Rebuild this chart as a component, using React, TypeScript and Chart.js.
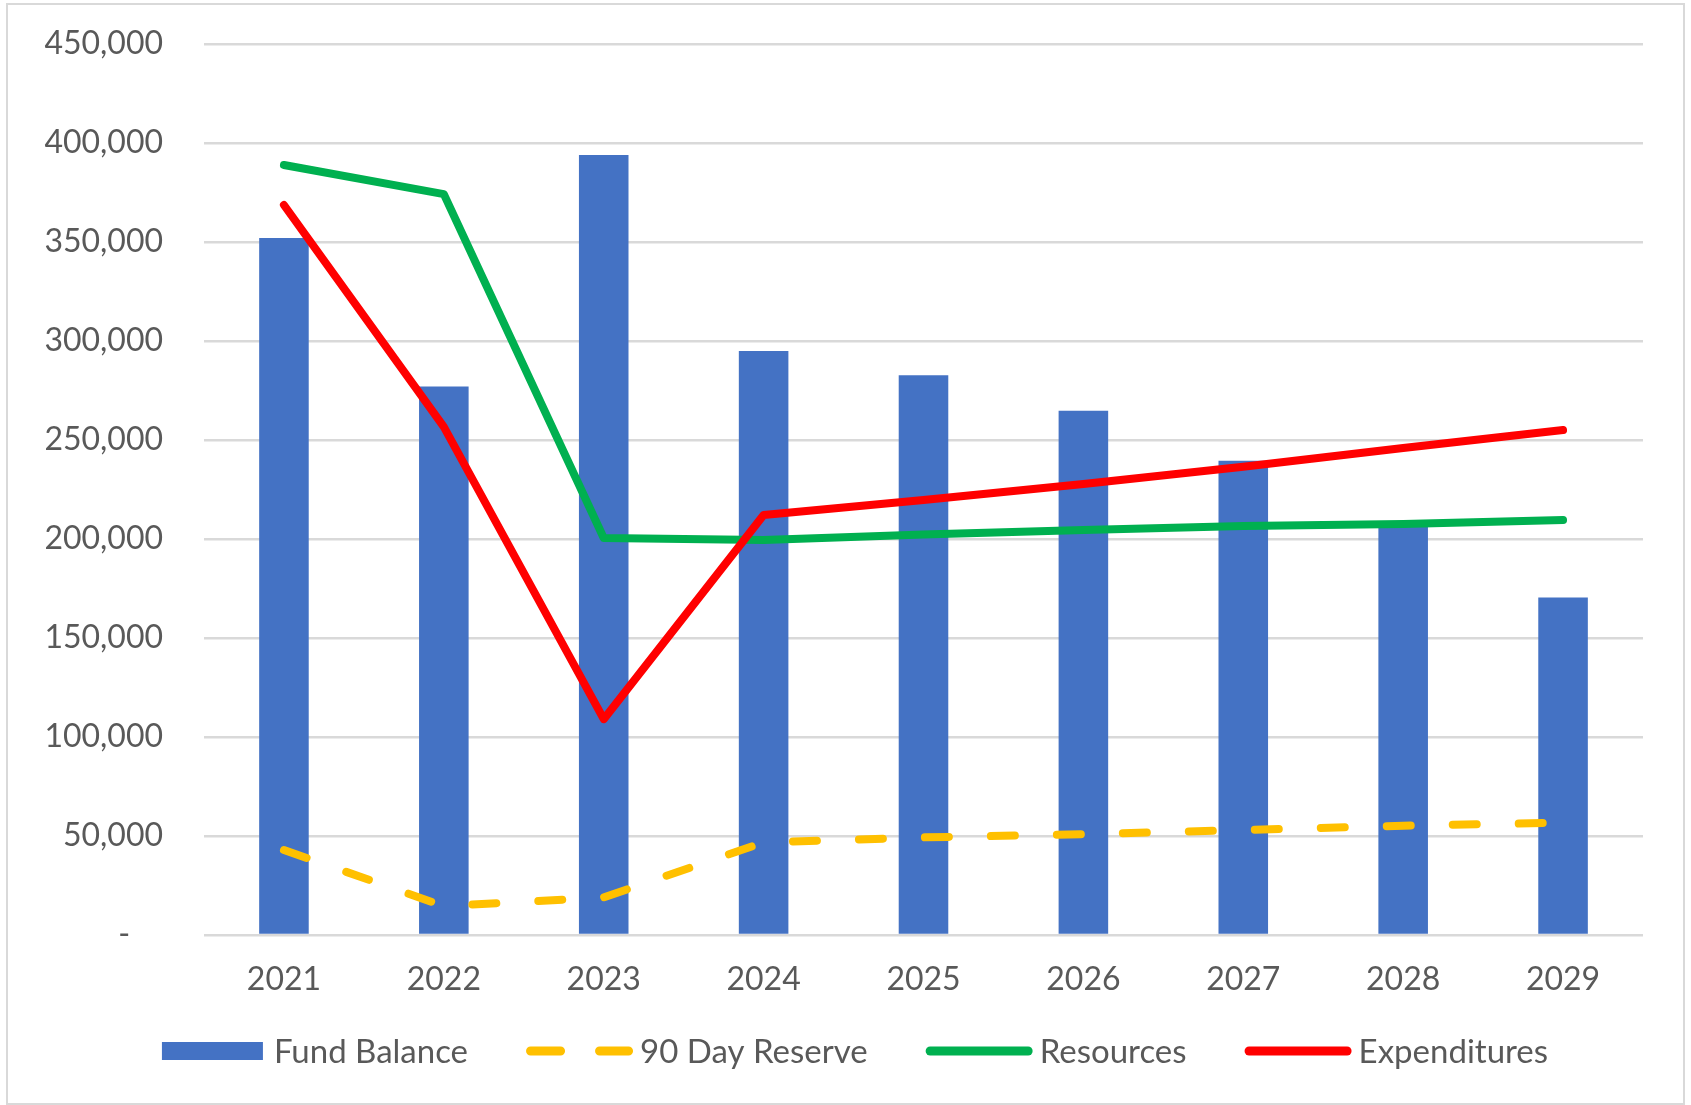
import React, { useEffect, useRef } from "react";
import { Chart, registerables } from "chart.js";

Chart.register(...registerables);

const years = ["2021", "2022", "2023", "2024", "2025", "2026", "2027", "2028", "2029"];
const fundBalance = [352000, 277000, 394000, 295000, 282700, 264800, 239500, 208000, 170500];
const reserve90 = [42900, 14600, 19000, 46800, 49300, 50900, 53000, 55200, 56700];
const resources = [388900, 374200, 200500, 199500, 202300, 204500, 206600, 207600, 209600];
const expenditures = [368700, 256600, 109000, 212100, 219700, 227800, 236500, 246000, 255000];
const seriesLabels = ["Fund Balance", "90 Day Reserve", "Resources", "Expenditures"];
const yMin = 0;
const yMax = 450000;
const yStep = 50000;

const FONT = "Lato, 'Open Sans', sans-serif";
const TEXT = "#595959";
const W = 1691;
const H = 1105;

const frameAndLegend = {
  id: "frameAndLegend",
  beforeDraw(chart: any) {
    const ctx = chart.ctx;
    ctx.save();
    ctx.fillStyle = "#ffffff";
    ctx.fillRect(0, 0, chart.width, chart.height);
    ctx.strokeStyle = "#d9d9d9";
    ctx.lineWidth = 2;
    ctx.strokeRect(7, 4, chart.width - 14, chart.height - 5);
    ctx.restore();
  },
  afterDraw(chart: any) {
    const ctx = chart.ctx;
    ctx.save();
    ctx.font = `33px ${FONT}`;
    ctx.textBaseline = "middle";
    ctx.fillStyle = TEXT;
    const gapItem = 58;
    const items = chart.data.datasets.map((ds: any) => {
      const isLine = ds.type === "line";
      return {
        ds,
        isLine,
        symW: isLine ? 107 : 101,
        gap: isLine ? 7 : 11,
        w: ctx.measureText(ds.label).width,
      };
    });
    const total =
      items.reduce((s: number, it: any) => s + it.symW + it.gap + it.w, 0) + gapItem * (items.length - 1);
    let x = 855 - total / 2;
    const y = chart.chartArea.bottom + 116;
    items.forEach((it: any) => {
      const ds = it.ds;
      if (it.isLine) {
        ctx.beginPath();
        ctx.strokeStyle = ds.borderColor;
        ctx.lineWidth = 9;
        ctx.lineCap = "round";
        ctx.setLineDash(ds.borderDash && ds.borderDash.length ? [30, 39] : []);
        ctx.moveTo(x + 4.5, y);
        ctx.lineTo(x + it.symW - 4.5, y);
        ctx.stroke();
        ctx.setLineDash([]);
      } else {
        ctx.fillStyle = ds.backgroundColor;
        ctx.fillRect(x, y - 9, it.symW, 18);
      }
      ctx.fillStyle = TEXT;
      ctx.fillText(ds.label, x + it.symW + it.gap, y + 1);
      x += it.symW + it.gap + it.w + gapItem;
    });
    ctx.restore();
  },
};

export default function App() {
  const canvasRef = useRef<HTMLCanvasElement | null>(null);

  useEffect(() => {
    if (!canvasRef.current) return;
    const chart = new Chart(canvasRef.current, {
      type: "bar",
      data: {
        labels: years,
        datasets: [
          {
            type: "bar",
            label: seriesLabels[0],
            data: fundBalance,
            backgroundColor: "#4472C4",
            barPercentage: 0.31,
            categoryPercentage: 1.0,
            order: 4,
          },
          {
            type: "line",
            label: seriesLabels[1],
            data: reserve90,
            borderColor: "#FFC000",
            backgroundColor: "#FFC000",
            borderWidth: 8,
            borderDash: [24, 42],
            borderCapStyle: "round",
            borderJoinStyle: "round",
            pointRadius: 0,
            tension: 0,
            fill: false,
            order: 3,
          },
          {
            type: "line",
            label: seriesLabels[2],
            data: resources,
            borderColor: "#00B050",
            backgroundColor: "#00B050",
            borderWidth: 8,
            borderCapStyle: "round",
            borderJoinStyle: "round",
            pointRadius: 0,
            tension: 0,
            fill: false,
            order: 2,
          },
          {
            type: "line",
            label: seriesLabels[3],
            data: expenditures,
            borderColor: "#FF0000",
            backgroundColor: "#FF0000",
            borderWidth: 8,
            borderCapStyle: "round",
            borderJoinStyle: "round",
            pointRadius: 0,
            tension: 0,
            fill: false,
            order: 1,
          },
        ] as any,
      },
      options: {
        responsive: false,
        animation: false,
        devicePixelRatio: 1,
        layout: { padding: { top: 44, right: 48, bottom: 0, left: 0 } },
        plugins: {
          legend: { display: false },
          tooltip: { enabled: false },
        },
        scales: {
          x: {
            grid: { display: false },
            border: { display: false },
            ticks: {
              color: TEXT,
              font: { family: FONT, size: 32 },
              padding: 17,
              maxRotation: 0,
            },
            afterFit: (scale: any) => {
              scale.height = 170;
              scale.paddingLeft = 0;
              scale.paddingRight = 0;
            },
          },
          y: {
            min: yMin,
            max: yMax,
            border: { display: false },
            grid: { color: "#d9d9d9", lineWidth: 2.5, drawTicks: false },
            ticks: {
              stepSize: yStep,
              color: TEXT,
              font: { family: FONT, size: 32 },
              padding: 41,
              callback: (v: any) => (Number(v) === 0 ? "-    " : Number(v).toLocaleString("en-US")),
            },
            afterFit: (scale: any) => {
              scale.width = 204;
              scale.paddingTop = 0;
              scale.paddingBottom = 0;
            },
          },
        },
      } as any,
      plugins: [frameAndLegend],
    });
    return () => chart.destroy();
  }, []);

  return (
    <div style={{ position: "absolute", left: 0, top: 0, width: W, height: H, background: "#fff" }}>
      <canvas ref={canvasRef} width={W} height={H} style={{ display: "block", width: W, height: H }} />
    </div>
  );
}
